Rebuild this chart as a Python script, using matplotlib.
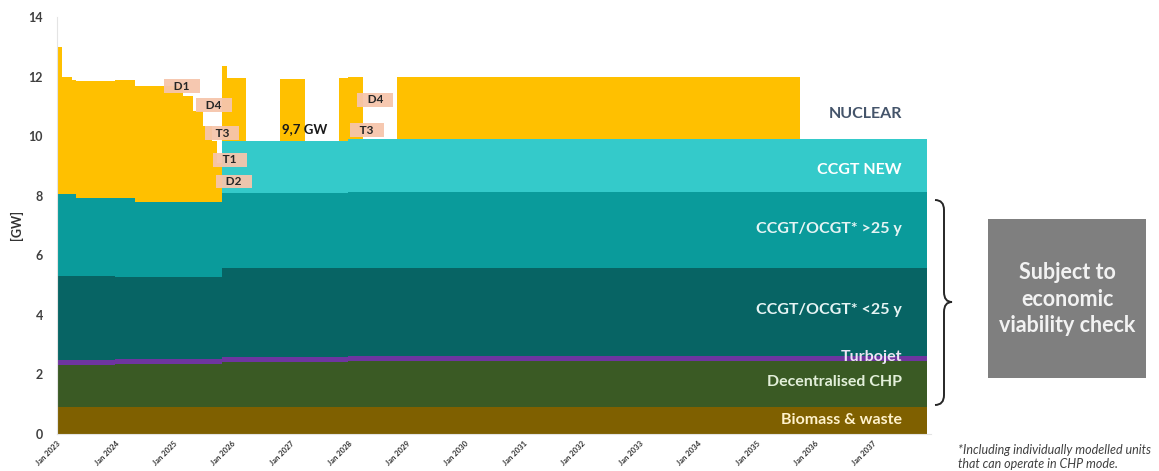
import numpy as np
import matplotlib
matplotlib.use('Agg')
import matplotlib.pyplot as plt
from matplotlib.path import Path
from matplotlib.patches import PathPatch, Rectangle

plt.rcParams['font.family'] = ['Lato', 'DejaVu Sans']

# ---------------- data ----------------
N_MONTHS = 179  # Jan 2023 .. Nov 2037
tick_years = list(range(2023, 2038))
tick_labels = [f'Jan {y}' for y in tick_years]

# capacity per technology [GW] as (start month index from Jan 2023, value)
biomass = [(0, 0.91)]
chp = [(0, 1.42), (12, 1.45), (34, 1.52), (60, 1.55)]
turbojet = [(0, 0.15)]
ccgt_lt25 = [(0, 2.82), (12, 2.77), (34, 3.00), (60, 2.97)]
ccgt_gt25 = [(0, 2.75), (4, 2.63), (16, 2.50), (60, 2.55)]
ccgt_new = [(0, 0.0), (34, 1.77)]
nuclear = [(0, 4.95), (1, 3.95), (3, 3.85), (4, 3.93), (12, 3.97), (16, 3.90),
           (26, 3.57), (28, 3.07), (30, 2.57), (32, 2.07), (33, 1.32),
           (34, 2.50), (35, 2.10), (39, 0.0), (46, 2.08), (51, 0.0),
           (58, 2.10), (63, 0.0), (70, 2.07), (153, 0.0)]

layer_names = ['Biomass & waste', 'Decentralised CHP', 'Turbojet',
               'CCGT/OCGT* <25 y', 'CCGT/OCGT* >25 y', 'CCGT NEW', 'NUCLEAR']
layer_data = [biomass, chp, turbojet, ccgt_lt25, ccgt_gt25, ccgt_new, nuclear]
layer_colors = ['#7F6000', '#3A5A24', '#6E35A0', '#076464', '#0A9B9B',
                '#34CACA', '#FFC000']
label_colors = ['#FFF2CC', '#E2EFD9', '#EDE4F5', '#E6F4F4', '#E6F4F4',
                '#FFFFFF', '#44546A']

# unit outage labels: (text, month position, GW position)
unit_labels = ['D1', 'D4', 'T3', 'T1', 'D2', 'D4', 'T3']
unit_x = [25.7, 32.3, 34.0, 35.6, 36.4, 65.5, 63.8]
unit_y = [11.68, 11.04, 10.10, 9.20, 8.48, 11.22, 10.20]


def expand(breaks, n=N_MONTHS):
    arr = np.zeros(n)
    for start, val in breaks:
        arr[start:] = val
    return arr


# ---------------- figure ----------------
W, H = 1159, 471
fig = plt.figure(figsize=(W / 100, H / 100), dpi=100)
ax = fig.add_axes([57 / W, (H - 434) / H, 874.4 / W, 417 / H])

x = np.arange(N_MONTHS + 1)
base = np.zeros(N_MONTHS + 1)
for name, data, col in zip(layer_names, layer_data, layer_colors):
    v = expand(data)
    v = np.append(v, v[-1])
    top = base + v
    ax.fill_between(x, base, top, step='post', color=col, linewidth=0)
    base = top

ax.set_xlim(0, 180)
ax.set_ylim(0, 14)
ax.set_yticks(range(0, 15, 2))
ax.set_yticklabels([str(v) for v in range(0, 15, 2)], fontsize=9,
                   fontweight='bold', color='#404040')
ax.set_xticks([12 * i for i in range(len(tick_years))])
ax.set_xticklabels(tick_labels, fontsize=5.5, rotation=45, ha='right',
                   va='top', rotation_mode='anchor', color='#333333',
                   fontweight='bold')
ax.tick_params(axis='both', length=0)
ax.tick_params(axis='y', pad=10)
ax.tick_params(axis='x', pad=4)
for s in ['top', 'right']:
    ax.spines[s].set_visible(False)
for s in ['left', 'bottom']:
    ax.spines[s].set_color('#E4E4E4')
    ax.spines[s].set_linewidth(0.8)
ax.set_ylabel('[GW]', fontsize=9, fontweight='bold', color='#333333',
              labelpad=4)

# layer labels
label_y = [0.47, 1.74, 2.58, 4.16, 6.88, 8.86, 10.74]
for name, ly, lc in zip(layer_names, label_y, label_colors):
    ax.text(173.9, ly, name, ha='right', va='center', fontsize=11.5,
            fontweight='bold', color=lc)

# unit labels
for t, ux, uy in zip(unit_labels, unit_x, unit_y):
    ax.text(ux, uy, '   ' + t + '   ', ha='center', va='center', fontsize=8.5,
            fontweight='bold', color='#262626',
            bbox=dict(boxstyle='square,pad=0.12', facecolor='#F6C5AC',
                      edgecolor='none', alpha=0.95))

ax.text(51, 10.24, '9,7 GW', ha='center', va='center', fontsize=9.5,
        fontweight='bold', color='#1A1A1A')

# curly brace (figure pixel coords -> fraction)
def P(px, py):
    return (px / W, 1 - py / H)

verts = [P(935, 200), P(944, 200), P(944, 210),
         P(944, 292),
         P(944, 302), P(952, 302),
         P(944, 302), P(944, 312),
         P(944, 395),
         P(944, 405), P(935, 405)]
codes = [Path.MOVETO, Path.CURVE3, Path.CURVE3,
         Path.LINETO,
         Path.CURVE3, Path.CURVE3,
         Path.CURVE3, Path.CURVE3,
         Path.LINETO,
         Path.CURVE3, Path.CURVE3]
fig.patches.append(PathPatch(Path(verts, codes), transform=fig.transFigure,
                             facecolor='none', edgecolor='#262626', lw=1.4))

# grey box
fig.patches.append(Rectangle((988 / W, 1 - 378 / H), 158 / W, 159 / H,
                             transform=fig.transFigure, facecolor='#7F7F7F',
                             edgecolor='none'))
fig.text(1067 / W, 1 - 299 / H, 'Subject to\neconomic\nviability check',
         ha='center', va='center', fontsize=15.5, fontweight='bold',
         color='#F2F2F2', linespacing=1.32)

fig.text(958 / W, 1 - 457 / H,
         '*Including individually modelled units\nthat can operate in CHP mode.',
         ha='left', va='center', fontsize=9, style='italic',
         color='#404040', linespacing=1.15)

fig.savefig('out.png', dpi=100)
